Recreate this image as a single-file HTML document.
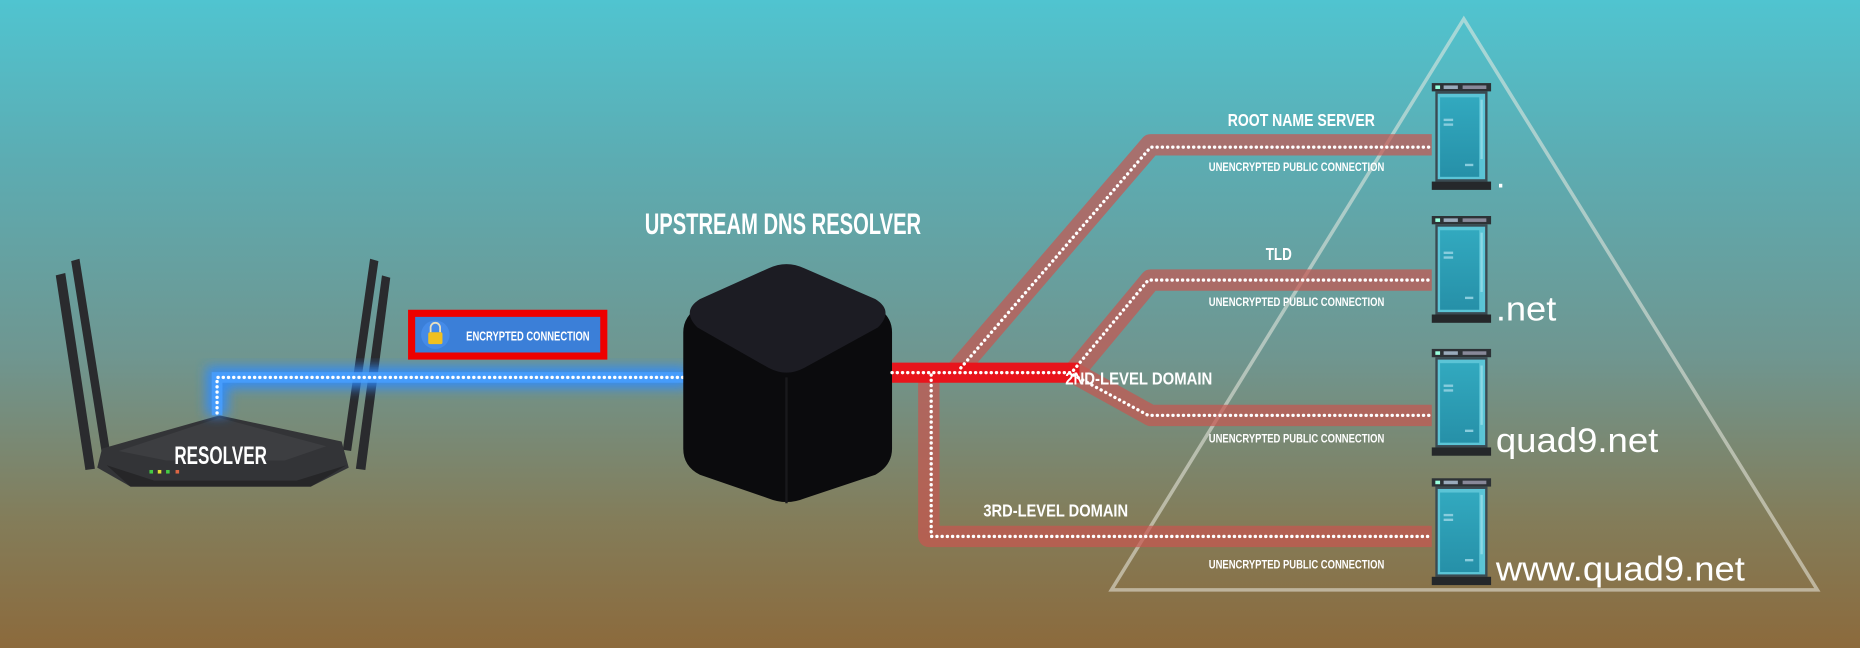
<!DOCTYPE html>
<html><head><meta charset="utf-8">
<style>
html,body{margin:0;padding:0;width:1860px;height:648px;overflow:hidden;background:#6a9a98}
svg{display:block}
.c{font-family:"Liberation Sans Narrow","Liberation Sans",sans-serif;font-weight:bold;fill:#fff}
.d{font-family:"Liberation Sans",sans-serif;fill:#fff}
</style></head><body>
<svg width="1860" height="648" viewBox="0 0 1568 546" preserveAspectRatio="none" xmlns="http://www.w3.org/2000/svg">
<defs>
<linearGradient id="bg" x1="0" y1="0" x2="0" y2="1">
<stop offset="0" stop-color="#50c4d0"/>
<stop offset="0.25" stop-color="#5cacb2"/>
<stop offset="0.55" stop-color="#6f9690"/>
<stop offset="0.8" stop-color="#837d5a"/>
<stop offset="1" stop-color="#8c6a3c"/>
</linearGradient>
<filter id="blur" x="-20%" y="-50%" width="140%" height="200%"><feGaussianBlur stdDeviation="5"/></filter>
<linearGradient id="scr" x1="0" y1="0" x2="0" y2="1"><stop offset="0" stop-color="#32a9bf"/><stop offset="1" stop-color="#2690a8"/></linearGradient>
<g id="srv">
<rect x="0" y="0" width="50" height="7" fill="#2d3236"/>
<rect x="3" y="2" width="4" height="3" fill="#9fd"/><rect x="10" y="2" width="12" height="3" fill="#9ab"/><rect x="26" y="2" width="20" height="3" fill="#889"/>
<rect x="3" y="7" width="44" height="76" fill="#3a4a52"/>
<rect x="5" y="9" width="40" height="72" fill="#5bc4d6"/>
<rect x="7" y="12" width="33" height="67" fill="url(#scr)"/>
<rect x="41" y="14" width="2" height="50" fill="#8ad8e6"/>
<rect x="10" y="30" width="8" height="2" fill="#8cd"/><rect x="10" y="34" width="8" height="2" fill="#8cd"/>
<rect x="28" y="68" width="7" height="2" fill="#8cd"/>
<rect x="0" y="83" width="50" height="7" fill="#25282b"/>
</g>
</defs>
<rect width="1568" height="546" fill="url(#bg)"/>
<polygon points="1234,16 1532,497 937,497" fill="none" stroke="rgba(235,235,225,0.55)" stroke-width="3"/>

<!-- router -->
<g fill="#2a2b2e">
<polygon points="47,232 55,230 80,395 72,396"/>
<polygon points="60,220 67,218 93,382 86,383"/>
<polygon points="312,218 319,220 296,380 289,379"/>
<polygon points="322,232 329,234 308,396 300,395"/>
</g>
<polygon points="86,378 185,350 288,372 294,394 262,410 110,410 82,394" fill="#333437"/>
<polygon points="100,380 185,352 275,376 240,388 140,388" fill="#3d3e41"/>
<polygon points="90,392 130,405 250,405 292,392 262,410 110,410" fill="#262628"/>
<rect x="126" y="396" width="3" height="3" fill="#4c4"/><rect x="133" y="396" width="3" height="3" fill="#dd3"/><rect x="140" y="396" width="3" height="3" fill="#4c4"/><rect x="148" y="396" width="3" height="3" fill="#d64"/>
<text x="186" y="391" text-anchor="middle" class="c" font-size="21" textLength="78" lengthAdjust="spacingAndGlyphs">RESOLVER</text>

<!-- blue line -->
<path d="M183,350 V318 H580" fill="none" stroke="#2f8cff" stroke-width="18" filter="url(#blur)" opacity="0.9"/>
<path d="M183,350 V318 H580" fill="none" stroke="#4aa0ff" stroke-width="9" opacity="0.8"/>
<path d="M183,348 V318 H578" fill="none" stroke="#fff" stroke-width="2.8" stroke-dasharray="0.1 4.3" stroke-linecap="round"/>

<!-- encrypted box -->
<rect x="344" y="261" width="168" height="42" fill="#e00"/>
<rect x="350" y="267" width="156" height="30" fill="#3b7fd8"/>
<circle cx="367" cy="282" r="12" fill="#4a90f0" opacity="0.7"/>
<path d="M363,280 v-4 a4,4 0 0 1 8,0 v4" fill="none" stroke="#e8e0c0" stroke-width="1.5"/>
<rect x="361" y="280" width="12" height="10" rx="1.5" fill="#f0c020"/>
<text x="393" y="287" class="c" font-size="11" textLength="104" lengthAdjust="spacingAndGlyphs">ENCRYPTED CONNECTION</text>

<text x="660" y="197" text-anchor="middle" class="c" font-size="25" textLength="233" lengthAdjust="spacingAndGlyphs">UPSTREAM DNS RESOLVER</text>

<!-- cube -->
<path d="M590,258 L648,228 Q663,220 678,228 L738,258 Q752,266 752,280 L752,378 Q752,392 738,400 L678,420 Q663,426 648,420 L590,400 Q576,393 576,378 L576,280 Q576,266 590,258 Z" fill="#0b0b0d"/>
<path d="M590,252 L648,226 Q663,219 678,226 L738,252 Q754,262 740,276 L678,310 Q663,318 648,310 L588,276 Q574,262 590,252 Z" fill="#1c1c23"/>
<path d="M663,318 V424" stroke="#19191c" stroke-width="2"/>

<!-- red connection bands -->
<g fill="none" stroke="rgba(200,85,80,0.7)" stroke-width="18" stroke-linejoin="round">
<path d="M805,314 L970,122 H1207"/>
<path d="M905,314 L970,236 H1207"/>
<path d="M905,314 L970,350 H1207"/>
<path d="M783,314 V452 H1207"/>
</g>
<path d="M752,314 H910" stroke="#e8141c" stroke-width="17"/>
<g fill="none" stroke="#fff" stroke-width="2.8" stroke-dasharray="0.1 4.3" stroke-linecap="round">
<path d="M752,314 H905"/>
<path d="M810,310 L970,124 H1207"/>
<path d="M905,312 L968,236 H1207"/>
<path d="M905,316 L968,350 H1207"/>
<path d="M785,316 V452 H1207"/>
</g>

<text x="1097" y="106" text-anchor="middle" class="c" font-size="15" textLength="124" lengthAdjust="spacingAndGlyphs">ROOT NAME SERVER</text>
<text x="1078" y="219" text-anchor="middle" class="c" font-size="15" textLength="22" lengthAdjust="spacingAndGlyphs">TLD</text>
<text x="960" y="324" text-anchor="middle" class="c" font-size="15" textLength="124" lengthAdjust="spacingAndGlyphs">2ND-LEVEL DOMAIN</text>
<text x="890" y="435" text-anchor="middle" class="c" font-size="15" textLength="122" lengthAdjust="spacingAndGlyphs">3RD-LEVEL DOMAIN</text>
<g class="c" font-size="10" text-anchor="middle">
<text x="1093" y="144" textLength="148" lengthAdjust="spacingAndGlyphs">UNENCRYPTED PUBLIC CONNECTION</text>
<text x="1093" y="258" textLength="148" lengthAdjust="spacingAndGlyphs">UNENCRYPTED PUBLIC CONNECTION</text>
<text x="1093" y="373" textLength="148" lengthAdjust="spacingAndGlyphs">UNENCRYPTED PUBLIC CONNECTION</text>
<text x="1093" y="479" textLength="148" lengthAdjust="spacingAndGlyphs">UNENCRYPTED PUBLIC CONNECTION</text>
</g>

<use href="#srv" x="1207" y="70"/>
<use href="#srv" x="1207" y="182"/>
<use href="#srv" x="1207" y="294"/>
<use href="#srv" x="1207" y="403"/>

<g class="d" font-size="29">
<text x="1261" y="158">.</text>
<text x="1261" y="270" textLength="51" lengthAdjust="spacingAndGlyphs">.net</text>
<text x="1261" y="381" textLength="137" lengthAdjust="spacingAndGlyphs">quad9.net</text>
<text x="1261" y="489" textLength="210" lengthAdjust="spacingAndGlyphs">www.quad9.net</text>
</g>
</svg>
</body></html>
